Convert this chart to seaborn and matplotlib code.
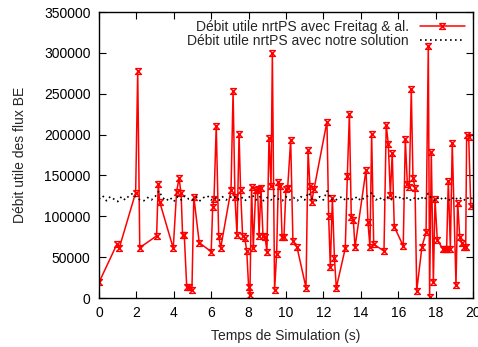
import numpy as np
import pandas as pd
import matplotlib
matplotlib.use("Agg")
import matplotlib.pyplot as plt
from matplotlib.path import Path
import seaborn as sns

# Débit utile nrtPS avec Freitag & al.
freitag_t = [0.0, 0.96, 1.09, 1.96, 2.07, 2.18, 3.08, 3.17, 3.24, 3.97, 4.15, 4.28, 4.39, 4.47,
             4.56, 4.69, 4.83, 4.97, 5.07, 5.36, 6.0, 6.08, 6.15, 6.27, 6.40, 6.51, 7.06, 7.17,
             7.27, 7.38, 7.49, 7.57, 7.68, 7.79, 7.90, 8.0, 8.07, 8.16, 8.25, 8.38, 8.48, 8.56,
             8.66, 8.77, 8.88, 8.98, 9.09, 9.20, 9.27, 9.39, 9.50, 9.59, 9.70, 9.79, 9.89, 10.0,
             10.09, 10.25, 10.37, 10.59, 11.07, 11.18, 11.28, 11.37, 11.50, 12.19, 12.28, 12.37,
             12.48, 12.59, 12.69, 13.17, 13.28, 13.39, 13.49, 13.60, 13.69, 14.28, 14.38, 14.49,
             14.58, 14.69, 15.24, 15.36, 15.47, 15.58, 15.68, 15.79, 16.27, 16.38, 16.49, 16.59,
             16.70, 16.79, 16.90, 16.99, 17.27, 17.49, 17.61, 17.68, 17.77, 17.88, 17.97, 18.09,
             18.38, 18.49, 18.59, 18.68, 18.79, 18.89, 19.09, 19.18, 19.29, 19.40, 19.50, 19.61,
             19.66, 19.77, 19.88]
freitag_v = [19000, 66000, 61600, 129000, 278000, 61600, 76000, 140000, 118000, 61000, 130000,
             146500, 128000, 77000, 77000, 14000, 14000, 10000, 124000, 67700, 56700, 111800,
             121000, 211000, 76000, 61600, 132600, 253000, 123600, 77000, 201000, 132600, 76000,
             74000, 58000, 14000, 3700, 135500, 61000, 132000, 134000, 76000, 135000, 76000,
             75000, 56700, 195500, 137500, 299500, 9800, 54200, 142400, 137500, 75000, 75000,
             133400, 135000, 193400, 69800, 62000, 12600, 180700, 137000, 118000, 133400, 215800,
             100700, 38000, 122000, 48600, 12600, 60800, 149700, 225600, 99100, 95800, 62000,
             157000, 93400, 62400, 201000, 65700, 57500, 211700, 188500, 126000, 177500, 87300,
             63600, 195000, 139000, 136300, 255400, 146900, 135000, 8600, 62800, 80400, 309000,
             1600, 178700, 19200, 120800, 71000, 60400, 60000, 60000, 143600, 60400, 190000,
             15900, 116700, 75000, 67000, 62800, 62000, 199500, 197500, 112000]

# Débit utile nrtPS avec notre solution
notre_t = [0.0, 0.2, 0.4, 0.6, 0.8, 1.0, 1.2, 1.4, 1.6, 1.8, 2.0, 2.2, 2.4, 2.6, 2.8, 3.0, 3.2,
           3.4, 3.6, 3.8, 4.0, 4.2, 4.4, 4.6, 4.8, 5.0, 5.2, 5.4, 5.6, 5.8, 6.0, 6.2, 6.4, 6.6,
           6.8, 7.0, 7.2, 7.4, 7.6, 7.8, 8.0, 8.2, 8.4, 8.6, 8.8, 9.0, 9.2, 9.4, 9.6, 9.8, 10.0,
           10.2, 10.4, 10.6, 10.8, 11.0, 11.2, 11.4, 11.6, 11.8, 12.0, 12.2, 12.4, 12.6, 12.8,
           13.0, 13.2, 13.4, 13.6, 13.8, 14.0, 14.2, 14.4, 14.6, 14.8, 15.0, 15.2, 15.4, 15.6,
           15.8, 16.0, 16.2, 16.4, 16.6, 16.8, 17.0, 17.2, 17.4, 17.6, 17.8, 18.0, 18.2, 18.4,
           18.6, 18.8, 19.0, 19.2, 19.4, 19.6, 19.8, 20.0]
notre_v = [121000, 125000, 119000, 124000, 121000, 118000, 124000, 120000, 125000, 128000,
           123000, 120000, 119000, 123000, 120000, 124000, 131000, 123000, 119000, 123000,
           118000, 124000, 120000, 125000, 121000, 120000, 124000, 119000, 123000, 125000,
           120000, 123000, 119000, 124000, 120000, 123000, 125000, 120000, 124000, 119000,
           123000, 126000, 120000, 124000, 119000, 123000, 120000, 125000, 121000, 119000,
           124000, 120000, 123000, 119000, 124000, 120000, 129000, 121000, 119000, 124000,
           120000, 131000, 121000, 119000, 122000, 124000, 119000, 123000, 120000, 124000,
           119000, 123000, 125000, 129000, 120000, 123000, 119000, 124000, 120000, 123000,
           125000, 120000, 124000, 119000, 123000, 120000, 124000, 120000, 128000, 121000,
           119000, 124000, 120000, 123000, 119000, 124000, 120000, 123000, 119000, 124000,
           121000]

x_ticks = [0, 2, 4, 6, 8, 10, 12, 14, 16, 18, 20]
y_ticks = [0, 50000, 100000, 150000, 200000, 250000, 300000, 350000]

sns.set_style("ticks")
plt.rcParams['font.family'] = ['Liberation Sans', 'DejaVu Sans']
plt.rcParams['font.size'] = 10

fig = plt.figure(figsize=(4.78, 3.47), dpi=100)
ax = fig.add_axes([99 / 478, 1 - 298 / 347, (473 - 99) / 478, (298 - 12) / 347])

hourglass = Path([(-1, 1), (1, 1), (-1, -1), (1, -1), (-1, 1)],
                 [Path.MOVETO, Path.LINETO, Path.LINETO, Path.LINETO, Path.LINETO])

df1 = pd.DataFrame({"t": freitag_t, "v": freitag_v})
df2 = pd.DataFrame({"t": notre_t, "v": notre_v})

sns.lineplot(data=df1, x="t", y="v", ax=ax, sort=False, estimator=None, color="#ff0000",
             linewidth=1.1, marker=hourglass, markersize=4.2, markeredgewidth=1.0,
             markerfacecolor="none", markeredgecolor="#ff0000",
             label="Débit utile nrtPS avec Freitag & al.")
sns.lineplot(data=df2, x="t", y="v", ax=ax, sort=False, estimator=None, color="black",
             linewidth=1.2, linestyle=(0, (1, 2)),
             label="Débit utile nrtPS avec notre solution")

ax.set_xlim(0, 20)
ax.set_ylim(0, 350000)
ax.set_xticks(x_ticks)
ax.set_xticklabels([str(v) for v in x_ticks])
ax.set_yticks(y_ticks)
ax.set_yticklabels([str(v) for v in y_ticks])
ax.tick_params(direction="in", top=True, right=True, length=5, width=0.8,
               labelsize=10, colors="black", pad=6)
for s in ax.spines.values():
    s.set_visible(True)
    s.set_color("black")
    s.set_linewidth(1.0)

ax.set_xlabel("Temps de Simulation (s)", fontsize=10, labelpad=6)
ax.set_ylabel("Débit utile des flux BE", fontsize=10, labelpad=12)

leg = ax.legend(loc="upper right", frameon=False, markerfirst=False, fontsize=10,
                handlelength=3.2, handletextpad=0.8, borderaxespad=0.2,
                labelspacing=0.0)

fig.savefig("out.png", dpi=100)
